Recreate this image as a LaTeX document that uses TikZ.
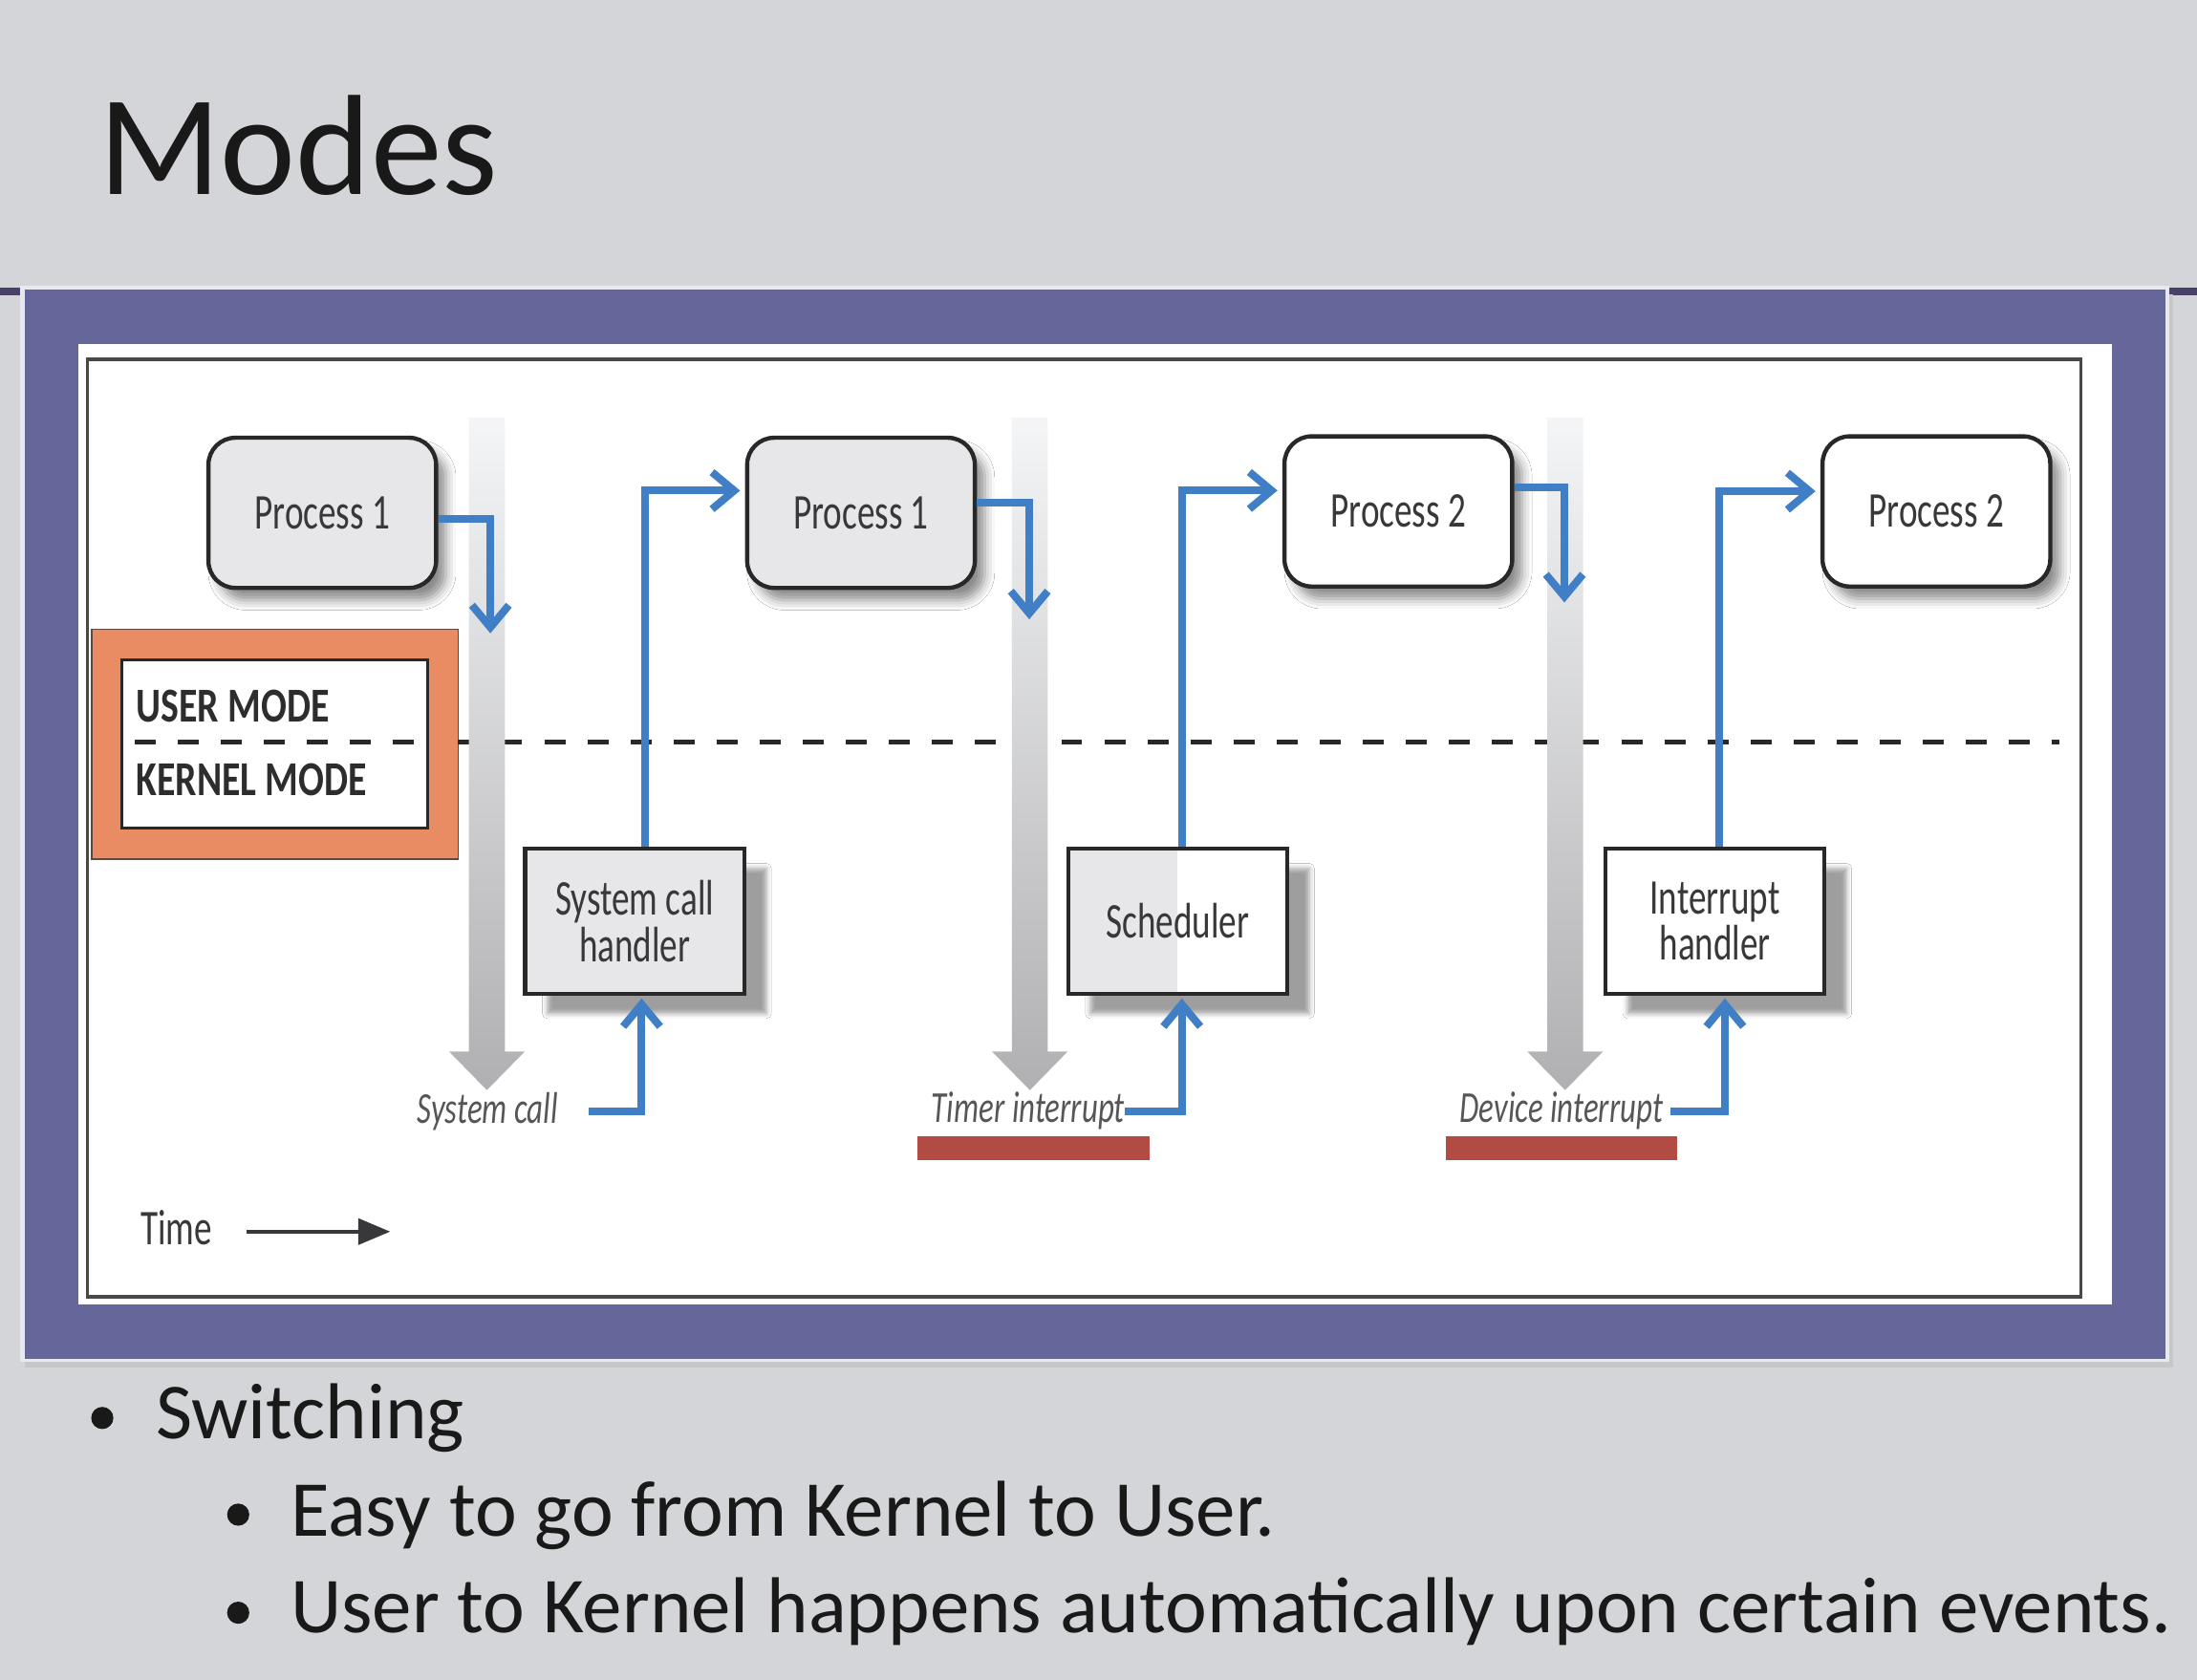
\documentclass[tikz,border=0pt]{standalone}
\usepackage{fontspec}
\setmainfont{Carlito}
\newfontfamily\diafont[FakeStretch=0.71]{Carlito}
\newfontfamily\modefont[FakeStretch=0.78]{Carlito}
\usetikzlibrary{arrows.meta, shadows.blur}

\definecolor{slidegray}{RGB}{212,213,217}
\definecolor{framepurple}{RGB}{101,102,154}
\definecolor{framelight}{RGB}{232,232,240}
\definecolor{titlebar}{RGB}{74,64,104}
\definecolor{boxgray}{RGB}{231,231,233}
\definecolor{boxline}{RGB}{40,40,40}
\definecolor{diatext}{RGB}{56,56,58}
\definecolor{flowblue}{RGB}{64,126,198}
\definecolor{modeorange}{RGB}{233,139,99}
\definecolor{eventred}{RGB}{178,76,66}
\definecolor{shaftlight}{RGB}{244,245,247}
\definecolor{shaftdark}{RGB}{176,176,178}

\tikzset{
	proc/.style={draw=boxline, line width=1.7pt, rounded corners=11pt, fill=white,
		minimum width=92.5pt, minimum height=61pt, inner sep=0pt,
		font=\diafont\fontsize{20.3}{22}\selectfont, text=diatext,
		blur shadow={shadow xshift=4pt, shadow yshift=-5pt, shadow blur radius=4pt, shadow opacity=45}},
	kern/.style={draw=boxline, line width=1.7pt, fill=white, align=center,
		minimum width=89pt, minimum height=59pt, inner sep=0pt,
		font=\diafont\fontsize{20.3}{18.7}\selectfont, text=diatext,
		blur shadow={shadow xshift=9pt, shadow yshift=-8pt, shadow blur radius=2pt, shadow opacity=38}},
	halfgray/.style={path picture={\fill[boxgray] (path picture bounding box.north west)
		rectangle (path picture bounding box.south);}},
	evtlabel/.style={inner sep=0pt, font=\diafont\itshape\fontsize{18}{20}\selectfont, text=diatext!85!white},
	modetext/.style={inner sep=0pt, font=\modefont\bfseries\fontsize{19.8}{22}\selectfont, text=diatext!80!black},
	flow/.style={draw=flowblue, line width=3.1pt, -{Straight Barb[length=9pt, width=15pt]}},
	modeline/.style={draw=boxline, line width=2pt, dash pattern=on 8.5pt off 9pt},
	bullettext/.style={anchor=base west, inner sep=0pt, font=\fontsize{32.2}{36}\selectfont, text=black!90},
}

\begin{document}
\begin{tikzpicture}[x=0.02cm, y=-0.02cm]
	\useasboundingbox (0,0) rectangle (1568,1199);
	\fill[slidegray] (0,0) rectangle (1568,1199);
	\node[anchor=base west, inner sep=0pt, font=\fontsize{58}{58}\selectfont, text=black!90] (title) at (70,139) {Modes};
	\draw[titlebar, line width=3.4pt] (0,208) -- (1568,208);

		%slide frame
	\fill[black!22] (18,210) rectangle (1551,976);
	\fill[framelight] (14,204) rectangle (1548.4,972);
	\fill[framepurple] (17.4,207) rectangle (1545.6,969.7);
	\fill[white] (55.7,245.6) rectangle (1507,931);
	\draw[boxline!85!white, line width=1.3pt] (62.6,256.5) rectangle (1485,925.5);

		%mode legend
	\draw[fill=modeorange, draw=boxline!70!modeorange, line width=0.6pt] (65.4,449) rectangle (327,613);
	\draw[fill=white, draw=boxline, line width=1.3pt] (87,471) rectangle (305,591);
	\node[modetext, anchor=west] (user) at (97,503.8) {USER MODE};
	\node[modetext, anchor=west] (kernel) at (97,556.3) {KERNEL MODE};

		%mode boundary
	\draw[modeline] (96,529.5) -- (302,529.5);
	\draw[modeline] (327,529.5) -- (1470,529.5);

		%time lines
	\foreach \x in {347.5,735,1117}
		\shade[top color=shaftlight, bottom color=shaftdark]
			(\x-12.8,298) -- (\x+12.8,298) -- (\x+12.8,750.5) -- (\x+27,750.5)
			-- (\x,778) -- (\x-27,750.5) -- (\x-12.8,750.5) -- cycle;

		%processes
	\node[proc, fill=boxgray] (p1a) at (230,366) {Process 1};
	\node[proc, fill=boxgray] (p1b) at (614.5,366) {Process 1};
	\node[proc] (p2a) at (998,365) {Process 2};
	\node[proc] (p2b) at (1382,365) {Process 2};

		%handlers
	\node[kern, fill=boxgray] (sch) at (453,657.5) {System call\\handler};
	\node[kern, halfgray] (sched) at (840.5,657.5) {Scheduler};
	\node[kern] (ih) at (1224,657.5) {Interrupt\\handler};

		%events
	\fill[eventred] (655,811) rectangle (820.6,828);
	\fill[eventred] (1031.8,811) rectangle (1197,828);
	\node[evtlabel] (sc) at (348,793) {System call};
	\node[evtlabel] (ti) at (733.8,793) {Timer interrupt};
	\node[evtlabel] (di) at (1114.3,793) {Device interrupt};

		%user to kernel
	\coordinate (d1) at (350,452);
	\coordinate (d2) at (734.6,442);
	\coordinate (d3) at (1116.5,430);
	\draw[flow] ([yshift=-2.5pt]p1a.east) -| (d1);
	\draw[flow] ([yshift=4pt]p1b.east) -| (d2);
	\draw[flow] ([yshift=9.7pt]p2a.east) -| (d3);

		%kernel back to user
	\draw[flow, shorten >=2pt] ([xshift=4.3pt]sch.north) |- ([yshift=9pt]p1b.west);
	\draw[flow, shorten >=2pt] ([xshift=1.7pt]sched.north) |- ([yshift=8.5pt]p2a.west);
	\draw[flow, shorten >=2pt] ([xshift=1.5pt]ih.north) |- ([yshift=8.2pt]p2b.west);

		%events to handlers
	\draw[flow, shorten <=12.3pt, shorten >=1pt] (sc.east) -| ([xshift=2.8pt]sch.south);
	\draw[flow, shorten >=1pt] (ti.east) -| ([xshift=1.7pt]sched.south);
	\draw[flow, shorten <=2.8pt, shorten >=1pt] (di.east) -| ([xshift=4pt]ih.south);

		%time axis
	\node[inner sep=0pt, font=\diafont\fontsize{20.3}{22}\selectfont, text=diatext] (time) at (126,876) {Time};
	\coordinate (tend) at (278.5,879);
	\draw[-{Triangle[length=13pt, width=10.5pt]}, line width=1.5pt, draw=diatext, fill=diatext,
		shorten <=13.6pt] (time.east |- tend) -- (tend);

		%bullets
	\fill[black!90] (73,1012) circle (4.5pt);
	\node[bullettext] (sw) at (111,1026.6) {Switching};
	\fill[black!90] (170,1081) circle (4.5pt);
	\node[bullettext] (easy) at (207,1096.6) {Easy to go from Kernel to User.};
	\fill[black!90] (170,1151) circle (4.5pt);
	\node[bullettext] (auto) at (207,1165.5) {User to Kernel happens automatically upon certain events.};
\end{tikzpicture}
\end{document}
